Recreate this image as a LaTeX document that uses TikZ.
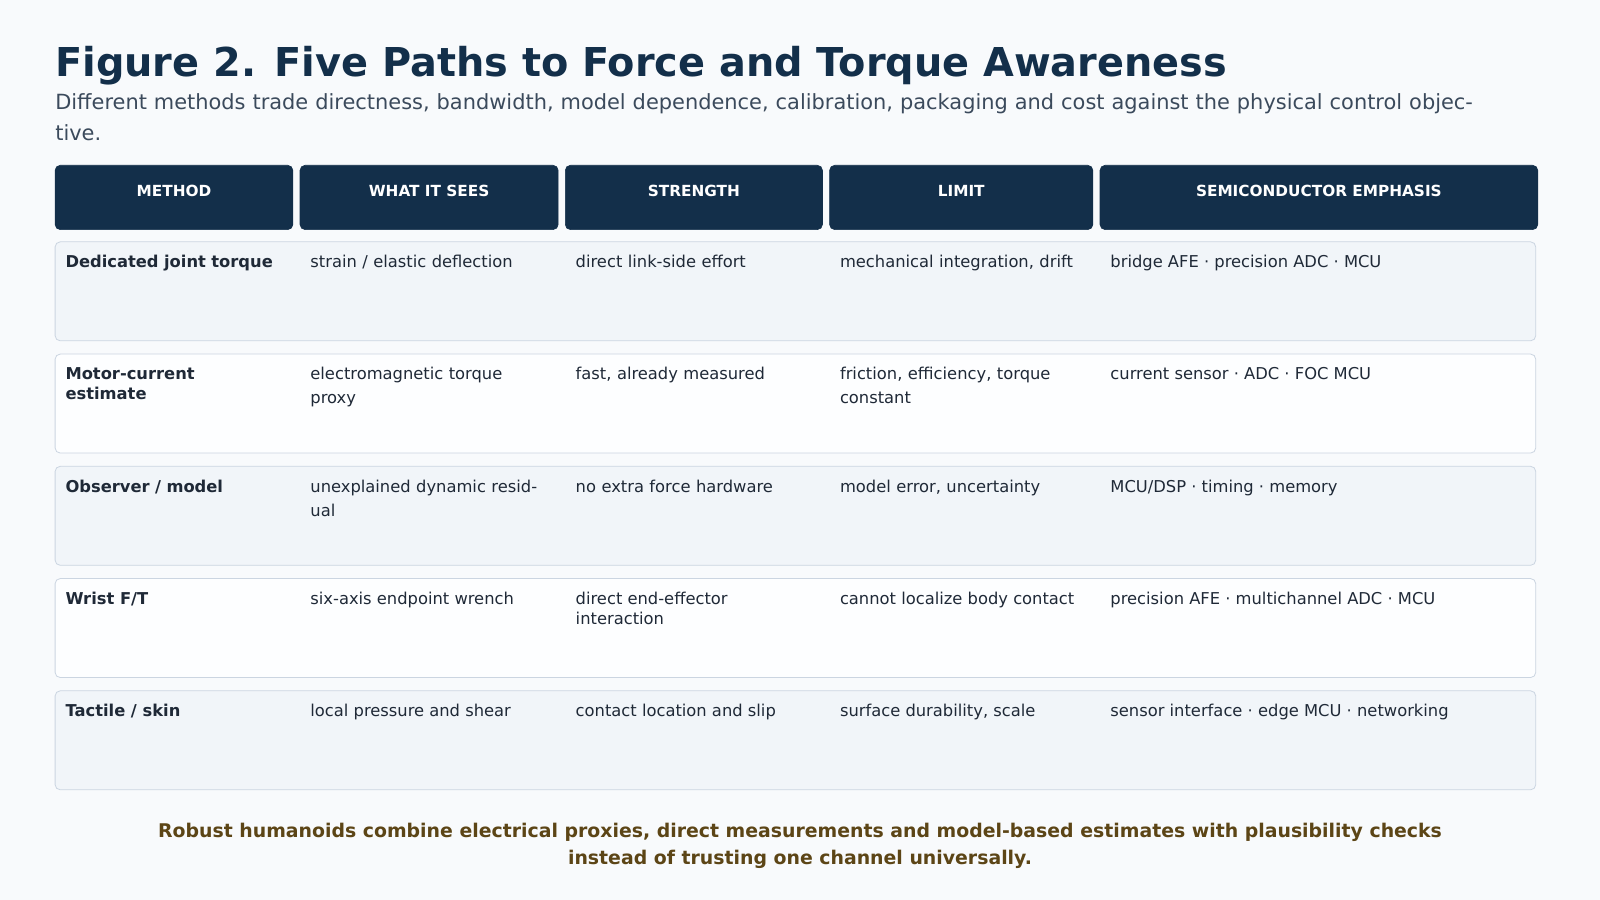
\documentclass[tikz,border=0pt]{standalone}
\usepackage{fontspec}
\setmainfont{DejaVu Sans}
\begin{document}
\definecolor{bg}{HTML}{F8FAFC}
\definecolor{navy}{HTML}{132F4A}
\definecolor{rowa}{HTML}{F1F5F9}
\definecolor{rowb}{HTML}{FDFEFF}
\definecolor{edge}{HTML}{CBD5E1}
\definecolor{body}{HTML}{1F2937}
\definecolor{sub}{HTML}{3B4A5C}
\definecolor{foot}{HTML}{5C4516}
\begin{tikzpicture}[x=1pt,y=-1pt,
  hdr/.style={draw=navy,fill=navy,rounded corners=5pt,line width=0.6pt},
  htxt/.style={text=white,font=\fontsize{15}{18}\selectfont\bfseries,anchor=center},
  row/.style={draw=edge,rounded corners=5pt,line width=0.8pt},
  cell/.style={anchor=north west,align=left,inner sep=0pt,text=body,font=\fontsize{16}{23.5}\selectfont},
  bcell/.style={cell,font=\fontsize{16}{20}\selectfont\bfseries}]
\fill[bg] (0,0) rectangle (1568,882);
\useasboundingbox (0,0) rectangle (1568,882);
\node[anchor=base west,inner sep=0pt,text=navy,font=\fontsize{39}{44}\selectfont\bfseries] (title) at (54,75) {Figure 2. Five Paths to Force and Torque Awareness};
\node[anchor=north west,inner sep=0pt,align=left,text width=1400,text=sub,font=\fontsize{20.5}{30}\selectfont] (subt) at (54,92) {Different methods trade directness, bandwidth, model dependence, calibration, packaging and cost against the physical control objective.};
% headers
\foreach \n/\a/\b/\t in {h1/54/287/METHOD,h2/294/547/WHAT IT SEES,h3/554/806/STRENGTH,h4/813/1071/LIMIT,h5/1078/1507/SEMICONDUCTOR EMPHASIS}{
  \draw[hdr] (\a,162) rectangle (\b,225);
  \node[htxt] (\n) at ({(\a+\b)/2},187) {\t};
}
% rows
\foreach \i/\y/\c in {1/237/rowa,2/347/rowb,3/457/rowa,4/567/rowb,5/677/rowa}{
  \draw[row,fill=\c] (54,\y) rectangle (1505,\y+97);
}
\def\rowtext#1#2#3#4#5#6{%
  \node[bcell,text width=215] (#1a) at (64,#2) {#3};
  \node[cell,text width=225] (#1b) at (304,#2) {#4};
  \node[cell,text width=235] (#1c) at (564,#2) {#5};
  \node[cell,text width=245] (#1d) at (823,#2) {#6};
}
\rowtext{r1}{250}{Dedicated joint torque}{strain / elastic deflection}{direct link-side effort}{mechanical integration, drift}
\node[cell] (r1e) at (1088,250) {bridge AFE · precision ADC · MCU};
\rowtext{r2}{360}{Motor-current\\estimate}{electromagnetic torque proxy}{fast, already measured}{friction, efficiency, torque constant}
\node[cell] (r2e) at (1088,360) {current sensor · ADC · FOC MCU};
\rowtext{r3}{470}{Observer / model}{unexplained dynamic residual}{no extra force hardware}{model error, uncertainty}
\node[cell] (r3e) at (1088,470) {MCU/DSP · timing · memory};
\node[bcell] (r4a) at (64,580) {Wrist F/T};
\node[cell] (r4b) at (304,580) {six-axis endpoint wrench};
\node[cell,font=\fontsize{16}{20}\selectfont] (r4c) at (564,580) {direct end-effector\\interaction};
\node[cell] (r4d) at (823,580) {cannot localize body contact};
\node[cell] (r4e) at (1088,580) {precision AFE · multichannel ADC · MCU};
\node[bcell] (r5a) at (64,690) {Tactile / skin};
\node[cell] (r5b) at (304,690) {local pressure and shear};
\node[cell] (r5c) at (564,690) {contact location and slip};
\node[cell] (r5d) at (823,690) {surface durability, scale};
\node[cell] (r5e) at (1088,690) {sensor interface · edge MCU · networking};
\node[anchor=north,align=center,inner sep=0pt,text=foot,font=\fontsize{18.5}{27}\selectfont\bfseries] (footer) at (784,806) {Robust humanoids combine electrical proxies, direct measurements and model-based estimates with plausibility checks\\instead of trusting one channel universally.};
\end{tikzpicture}
\end{document}
